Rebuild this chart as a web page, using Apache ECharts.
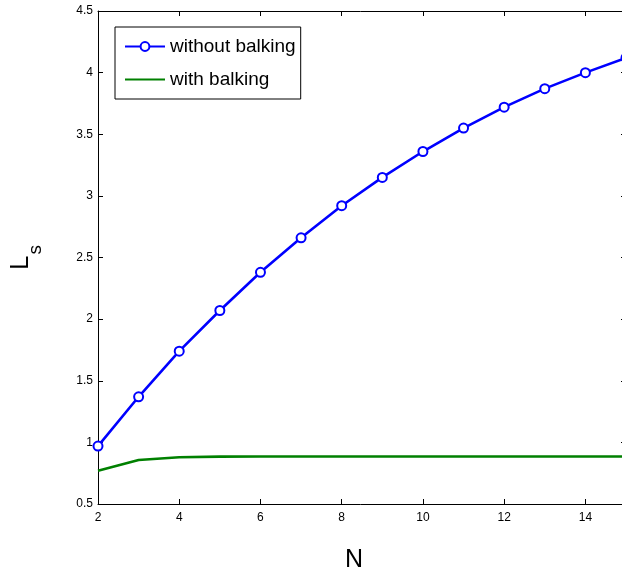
<!DOCTYPE html>
<html lang="en">
<head>
    <meta charset="UTF-8">
</head>
<style>
    html, body {
        width: 100%;
        height: 100%;
        margin: 0;
        background: #fff;
    }
</style>
<body>

<div id="main" style="width:622px;height:575px;"></div>

<script src="https://cdn.jsdelivr.net/npm/echarts@6/dist/echarts.min.js" type="text/javascript"></script>

<script type="text/javascript">

    // N values (x axis)
    const nValues = [2, 3, 4, 5, 6, 7, 8, 9, 10, 11, 12, 13, 14, 15];
    // L_s without balking
    const withoutBalking = [0.97, 1.37, 1.74, 2.07, 2.38, 2.66, 2.92, 3.15, 3.36, 3.55, 3.72, 3.87, 4.00, 4.12];
    // L_s with balking
    const withBalking = [0.77, 0.857, 0.879, 0.884, 0.885, 0.885, 0.885, 0.885, 0.885, 0.885, 0.885, 0.885, 0.885, 0.885];

    const seriesNames = ['without balking', 'with balking'];

    const font = 'Liberation Sans, Arial, Helvetica, sans-serif';

    let myEcharts = echarts.init(document.getElementById('main'));

    const tickStyle = {show: true, inside: true, length: 5, lineStyle: {color: '#000', width: 1}};
    const lineStyle = {show: true, lineStyle: {color: '#000', width: 1}};

    let option = {
        backgroundColor: '#fff',
        animation: false,
        grid: {left: 98, top: 11, right: -4, bottom: 71, outerBoundsMode: 'none', containLabel: false},
        legend: {
            left: 115,
            top: 27,
            orient: 'vertical',
            backgroundColor: '#fff',
            borderColor: '#000',
            borderWidth: 1,
            borderRadius: 0,
            padding: [10, 5, 10, 9],
            itemWidth: 40,
            itemHeight: 11,
            itemGap: 14,
            textStyle: {fontFamily: font, fontSize: 19, color: '#000'},
            data: [
                {name: seriesNames[0]},
                // plain line, hide the marker
                {name: seriesNames[1], itemStyle: {color: 'rgba(0,0,0,0)', borderWidth: 0}}
            ]
        },
        xAxis: [{
            type: 'value',
            min: 2,
            max: 15,
            interval: 2,
            name: 'N',
            nameLocation: 'middle',
            nameGap: 44,
            nameTextStyle: {fontFamily: font, fontSize: 25, color: '#000', padding: [0, 16, 0, 0]},
            axisLine: lineStyle,
            axisTick: tickStyle,
            splitLine: {show: false},
            axisLabel: {fontFamily: font, fontSize: 12, color: '#000', margin: 8, showMaxLabel: false}
        }, {
            type: 'value',
            position: 'top',
            min: 2,
            max: 15,
            interval: 2,
            axisLine: lineStyle,
            axisTick: tickStyle,
            splitLine: {show: false},
            axisLabel: {show: false}
        }],
        yAxis: [{
            type: 'value',
            min: 0.5,
            max: 4.5,
            interval: 0.5,
            name: '{L|L}{s|s}',
            nameLocation: 'middle',
            nameGap: 53,
            nameRotate: 90,
            nameTextStyle: {
                fontFamily: font,
                color: '#000',
                rich: {
                    L: {fontFamily: font, fontSize: 26, color: '#000', verticalAlign: 'top'},
                    s: {fontFamily: font, fontSize: 19, color: '#000', padding: [18, 0, 0, 1], verticalAlign: 'bottom'}
                }
            },
            axisLine: lineStyle,
            axisTick: tickStyle,
            splitLine: {show: false},
            axisLabel: {fontFamily: font, fontSize: 12, color: '#000', margin: 5}
        }, {
            type: 'value',
            position: 'right',
            min: 0.5,
            max: 4.5,
            interval: 0.5,
            axisLine: lineStyle,
            axisTick: tickStyle,
            splitLine: {show: false},
            axisLabel: {show: false}
        }],
        series: [
            {
                name: seriesNames[0],
                type: 'line',
                data: nValues.map((n, i) => [n, withoutBalking[i]]),
                symbol: 'emptyCircle',
                symbolSize: 9,
                showAllSymbol: true,
                color: '#0000ff',
                lineStyle: {color: '#0000ff', width: 2.6},
                itemStyle: {color: '#0000ff', borderWidth: 2.2},
                clip: true
            },
            {
                name: seriesNames[1],
                type: 'line',
                data: nValues.map((n, i) => [n, withBalking[i]]),
                symbol: 'none',
                color: '#008000',
                lineStyle: {color: '#008000', width: 2.6},
                clip: true
            }
        ]
    };

    myEcharts.setOption(option);

</script>
</body>
</html>
